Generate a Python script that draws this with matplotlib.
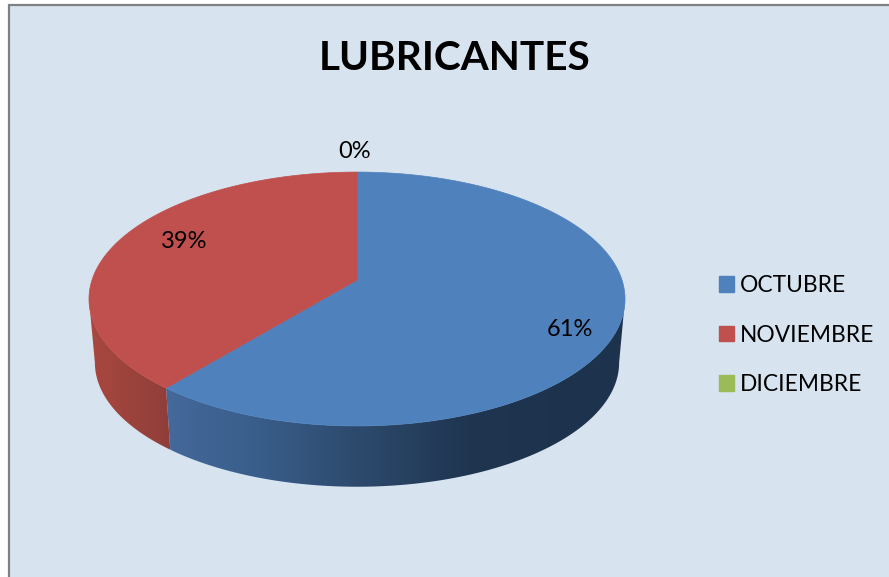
# 3D looking pie drawn by hand, matplotlib's own pie has no depth
import numpy as np
import matplotlib
matplotlib.use('Agg')
import matplotlib.pyplot as plt
from matplotlib.patches import Polygon, Patch, Rectangle

# data
title = 'LUBRICANTES'
months = ['OCTUBRE', 'NOVIEMBRE', 'DICIEMBRE']
percent = [61, 39, 0]
colors = ['#4f81bd', '#c0504d', '#9bbb59']

plt.rcParams['font.family'] = ['Lato', 'DejaVu Sans']

# perspective of the disc (pixels)
cx, cy = 357, 280
A, B, k = 265, 124.1, 0.1497
depth_scale, depth_y = 0.978, 344


def top_face(t):
    u, v = np.sin(t), -np.cos(t)
    w = 1 - k * v
    return cx + A * u / w, cy + B * v / w


def bottom_face(t):
    x, y = top_face(t)
    return cx + (x - cx) * depth_scale, depth_y + (y - cy) * depth_scale


def gradient(xs, cols):
    # one row image, left to right
    rgb = np.array([matplotlib.colors.to_rgb(c) for c in cols])
    grid = np.arange(xs[0], xs[-1] + 1)
    return np.dstack([np.interp(grid, xs, rgb[:, i]) for i in range(3)])


fig = plt.figure(figsize=(8.89, 5.77), dpi=100, facecolor='white')
ax = fig.add_axes([0, 0, 1, 1])
ax.axis('off')

# chart area and its grey border
ax.add_patch(Rectangle((9, 5), 890, 590, facecolor='#d7e3ef', edgecolor='#808080', linewidth=1.6, zorder=0.5))

edges = np.radians(np.cumsum([0] + percent) * 3.6)

# side wall, runs between the widest points of the disc
widest = np.arccos(-k)
blue_x = [165, 250, 357, 470, 625]
blue_c = ['#44699b', '#3a5f8c', '#2d4a6d', '#1f3550', '#1d324c']
red_x = [89, 170]
red_c = ['#a9483f', '#903e3a']
wall_parts = [(widest, edges[1], blue_x, blue_c), (edges[1], 2 * np.pi - widest, red_x, red_c)]
for start, end, xs, cols in wall_parts:
    ts = np.linspace(start, end, 200)
    x_top, y_top = top_face(ts)
    x_bot, y_bot = bottom_face(ts[::-1])
    shape = Polygon(list(zip(x_top, y_top)) + list(zip(x_bot, y_bot)), closed=True,
                    facecolor='none', edgecolor='none', transform=ax.transData)
    ax.add_patch(shape)
    im = ax.imshow(gradient(xs, cols), extent=(xs[0], xs[-1], 500, 250), aspect='auto',
                   interpolation='bilinear', zorder=1)
    im.set_clip_path(shape)

# top of the pie
for i in range(len(percent)):
    if percent[i] == 0:
        continue
    ts = np.linspace(edges[i], edges[i + 1], 200)
    x, y = top_face(ts)
    pts = [(cx, cy)] + list(zip(x, y))
    ax.add_patch(Polygon(pts, closed=True, facecolor=colors[i], edgecolor=colors[i], linewidth=0.5, zorder=2))

ax.set_xlim(0, 889)
ax.set_ylim(577, 0)
ax.set_aspect('auto')

# texts
ax.text(455, 59, title, fontsize=29.2, fontweight='bold', ha='center', va='center', color='black')
label_pos = [(570, 330), (184, 242), (355, 152)]
for p, pos in zip(percent, label_pos):
    ax.text(pos[0], pos[1], str(p) + '%', fontsize=17, ha='center', va='center', color='black')

handles = [Patch(facecolor=c, edgecolor=c) for c in colors]
ax.legend(handles, months, loc='upper left', bbox_to_anchor=(710, 266), bbox_transform=ax.transData,
          frameon=False, fontsize=16.4, handlelength=0.66, handleheight=0.66, handletextpad=0.25,
          labelspacing=1.25, borderpad=0.4, borderaxespad=0)

plt.savefig('out.png', dpi=100)
